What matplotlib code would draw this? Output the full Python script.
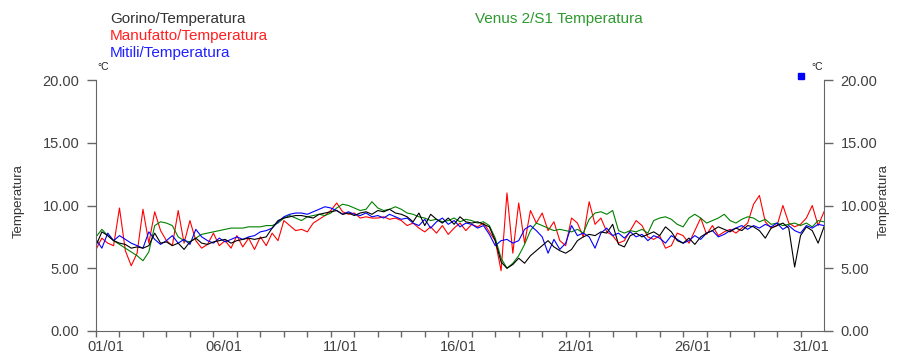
import numpy as np
import matplotlib
matplotlib.use('Agg')
import matplotlib.pyplot as plt
from matplotlib.transforms import ScaledTranslation

plt.rcParams['font.family'] = ['Liberation Sans', 'DejaVu Sans']

# sample times in days since 01/01 00:00 (every 6 hours)
t_days = np.arange(125) * 0.25

gorino = [6.8, 7.9, 7.6, 7.2, 7.0, 6.9, 6.6, 6.7, 6.6, 6.8, 7.8, 7.0,
          7.1, 6.8, 7.0, 6.5, 7.1, 7.4, 7.0, 6.9, 7.1, 7.2, 7.3, 7.0,
          7.2, 7.3, 7.4, 7.3, 7.4, 7.5, 8.2, 8.8, 9.0, 9.1, 9.2, 9.2,
          9.1, 9.0, 9.3, 9.4, 9.5, 9.6, 9.3, 9.4, 9.2, 9.4, 9.5, 9.3,
          9.6, 9.5, 9.7, 9.4, 9.3, 9.1, 8.7, 9.4, 8.4, 9.3, 8.9, 8.6,
          9.0, 8.5, 9.1, 8.7, 8.6, 8.7, 8.5, 8.3, 7.2, 5.5, 5.0, 5.3,
          5.8, 5.4, 6.0, 6.4, 6.8, 7.2, 6.7, 6.4, 6.2, 6.5, 7.2, 7.5,
          7.7, 7.6, 7.9, 7.8, 8.5, 6.9, 6.7, 7.6, 7.8, 7.5, 7.7, 7.9,
          7.6, 8.3, 7.9, 7.2, 7.0, 7.4, 6.9, 7.5, 7.8, 8.0, 8.3, 8.1,
          7.9, 8.2, 8.0, 8.4, 8.3, 8.0, 7.4, 8.2, 8.4, 8.6, 8.2, 5.1,
          7.6, 8.3, 8.0, 7.0, 8.3]

manufatto = [6.5, 7.4, 7.0, 6.8, 9.8, 6.4, 5.2, 6.2, 9.7, 7.0, 9.5, 8.0,
             7.2, 6.8, 9.6, 7.0, 8.8, 7.2, 6.6, 6.9, 7.8, 6.8, 7.2, 6.6,
             7.6, 6.7, 7.4, 6.5, 7.5, 6.8, 7.8, 7.2, 8.8, 8.4, 8.0, 8.1,
             7.9, 8.6, 8.9, 9.2, 9.6, 10.2, 9.5, 9.3, 9.4, 9.0, 9.1, 9.0,
             9.0, 9.1, 8.9, 9.0, 8.8, 8.4, 8.6, 8.2, 7.9, 8.3, 7.8, 8.4,
             7.7, 8.2, 8.6, 8.0, 8.5, 8.3, 8.6, 7.9, 7.2, 4.8, 11.0, 6.2,
             10.2, 7.0, 9.6, 8.6, 9.4, 8.0, 8.7, 7.2, 6.8, 9.0, 8.6, 7.5,
             10.3, 8.5, 9.0, 7.9, 7.6, 7.0, 7.2, 8.0, 8.8, 8.4, 7.5, 7.3,
             7.6, 6.6, 6.8, 7.8, 7.6, 7.0, 8.0, 9.0, 7.7, 8.4, 7.6, 7.9,
             8.1, 7.8, 8.2, 8.6, 10.1, 10.8, 8.7, 8.2, 8.4, 10.0, 8.6, 8.3,
             8.5, 9.0, 10.0, 8.4, 9.5]

mitili = [7.3, 6.6, 7.8, 7.2, 7.6, 7.3, 7.0, 6.8, 6.6, 7.9, 7.3, 6.9,
          7.2, 7.6, 7.0, 7.3, 6.9, 8.1, 7.5, 7.2, 7.0, 7.4, 7.1, 7.3,
          7.5, 7.3, 7.5, 7.6, 7.9, 8.0, 8.2, 8.7, 9.1, 9.3, 9.4, 9.4,
          9.3, 9.5, 9.7, 9.9, 9.8, 9.6, 9.3, 9.5, 9.3, 9.2, 9.4, 9.1,
          9.2, 9.0, 9.3, 9.1, 8.9, 9.0, 8.6, 8.4, 8.9, 8.2, 8.7, 9.0,
          8.5, 8.8, 8.3, 8.6, 8.5, 8.2, 8.4, 7.7, 6.8, 7.2, 7.3, 7.0,
          7.2, 8.1, 8.4, 8.0, 7.5, 6.2, 7.3, 6.5, 7.0, 8.4, 7.6, 7.8,
          7.5, 6.6, 7.8, 8.2, 7.6, 7.8, 7.4, 7.9, 7.5, 7.7, 7.2, 7.6,
          7.4, 7.0, 7.6, 7.3, 7.0, 7.2, 7.6, 7.3, 7.8, 8.0, 7.5, 7.7,
          8.0, 8.2, 8.4, 8.1, 8.4, 8.2, 8.5, 8.3, 8.6, 8.1, 8.4, 8.0,
          7.8, 8.4, 8.2, 8.5, 8.4]

venus = [7.5, 8.1, 7.6, 7.2, 6.9, 6.6, 6.3, 6.0, 5.6, 6.3, 8.4, 8.7,
         8.6, 8.4, 7.5, 7.2, 7.1, 7.4, 7.7, 7.8, 7.9, 8.0, 8.1, 8.2,
         8.2, 8.2, 8.3, 8.3, 8.3, 8.4, 8.4, 8.6, 9.0, 9.2, 9.0, 8.8,
         9.1, 9.2, 9.3, 9.2, 9.4, 9.8, 10.1, 10.0, 9.8, 9.6, 9.7, 10.3,
         9.8, 9.6, 9.7, 9.9, 9.7, 9.4, 9.3, 9.1, 9.0, 8.8, 8.9, 8.7,
         8.8, 9.0, 8.7, 8.9, 8.8, 8.6, 8.7, 8.4, 7.4, 5.8, 5.0, 5.4,
         6.0, 6.9, 8.0, 8.6, 8.4, 8.2, 8.0, 8.1, 8.0, 7.9, 8.1, 7.8,
         8.9, 9.4, 9.5, 9.3, 9.6, 8.0, 7.8, 8.0, 7.9, 8.1, 7.8, 8.8,
         9.0, 9.1, 8.9, 8.5, 8.3, 9.0, 9.3, 9.0, 8.6, 8.8, 9.0, 9.3,
         8.8, 8.6, 8.9, 9.1, 9.0, 8.7, 8.9, 8.5, 8.6, 8.4, 8.5, 8.6,
         8.4, 8.6, 8.3, 8.8, 8.7]

day_ticks = [0, 5, 10, 15, 20, 25, 30]
day_labels = ['01/01', '06/01', '11/01', '16/01', '21/01', '26/01', '31/01']
y_ticks = [0, 5, 10, 15, 20]

series_names = ['Gorino/Temperatura', 'Manufatto/Temperatura', 'Mitili/Temperatura',
                'Venus 2/S1 Temperatura']

W, H = 901, 353
fig = plt.figure(figsize=(W / 100, H / 100), dpi=100)
ax = fig.add_axes([96 / W, 22 / H, 728 / W, 251 / H])

ax.plot(t_days, manufatto, color='#ff0000', lw=0.8)
ax.plot(t_days, venus, color='#008000', lw=0.8)
ax.plot(t_days, mitili, color='#0000ff', lw=0.8)
ax.plot(t_days, gorino, color='#000000', lw=0.8)

ax.set_xlim(0, 31)
ax.set_ylim(0, 20)

axis_col = '#666666'
text_col = '#404040'
for side in ['left', 'right', 'bottom']:
    ax.spines[side].set_color(axis_col)
ax.spines['top'].set_visible(False)

ax.set_yticks(y_ticks)
ax.set_yticklabels(['%.2f' % v for v in y_ticks])
ax.tick_params(axis='y', left=True, right=True, labelleft=True, labelright=True,
               direction='out', length=6.5, width=1, color=axis_col,
               labelsize=10.5, labelcolor=text_col, pad=5.5)

ax.set_xticks(day_ticks)
ax.set_xticks(np.arange(0, 31), minor=True)
ax.set_xticklabels(day_labels)
ax.tick_params(axis='x', which='both', direction='out', length=4.5, width=1,
               color=axis_col, labelsize=10.5, labelcolor=text_col, pad=2)
shift = ScaledTranslation(0.10, 0, fig.dpi_scale_trans)
for lab in ax.get_xticklabels():
    lab.set_transform(lab.get_transform() + shift)

# axis titles and units
fig.text(19 / W, 1 - 201 / H, 'Temperatura', rotation=90, ha='center', va='center',
         fontsize=9.5, color='#333333')
fig.text(884 / W, 1 - 201 / H, 'Temperatura', rotation=90, ha='center', va='center',
         fontsize=9.5, color='#333333')
fig.text(97 / W, 1 - 67 / H, '°C', ha='left', va='center', fontsize=7.5, color='#222222')
fig.text(823 / W, 1 - 67 / H, '°C', ha='right', va='center', fontsize=7.5, color='#222222')
ax.plot([0.968], [1.014], marker='s', ms=5, color='#0000ff', transform=ax.transAxes,
        clip_on=False, ls='none')

# series titles
fig.text(110 / W, 1 - 19 / H, series_names[0], color='#333333', fontsize=11, va='center')
fig.text(110 / W, 1 - 36 / H, series_names[1], color='#ff2020', fontsize=11, va='center')
fig.text(110 / W, 1 - 53 / H, series_names[2], color='#2020ff', fontsize=11, va='center')
fig.text(475 / W, 1 - 19 / H, series_names[3], color='#2e9a2e', fontsize=11, va='center')

fig.savefig('out.png', dpi=100)
